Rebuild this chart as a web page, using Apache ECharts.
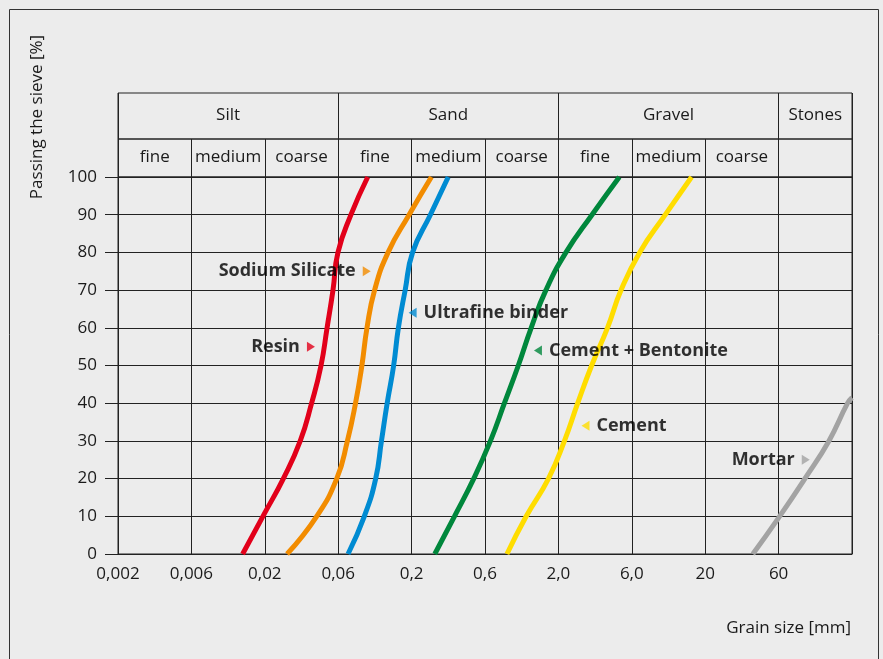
<!DOCTYPE html>
<html>
<head>
<meta charset="utf-8">
<title>Grain size distribution</title>
<script src="https://cdn.jsdelivr.net/npm/echarts@6/dist/echarts.min.js"></script>
<style>
  html, body { margin: 0; padding: 0; background: #ececec; }
  #chart { width: 883px; height: 659px; }
</style>
</head>
<body>
<div id="chart"></div>
<script>
// Sieve sizes [mm] marking the vertical grid lines (evenly spaced on the chart)
const tickSizes = [0.002, 0.006, 0.02, 0.06, 0.2, 0.6, 2, 6, 20, 60, 200];
const tickLabels = ['0,002', '0,006', '0,02', '0,06', '0,2', '0,6', '2,0', '6,0', '20', '60', ''];

// Soil fractions and their sub-classes
const fractionNames = ['Silt', 'Sand', 'Gravel', 'Stones'];
const fractionBounds = [[0.002, 0.06], [0.06, 2], [2, 60], [60, 200]];
const subclassNames = ['fine', 'medium', 'coarse', 'fine', 'medium', 'coarse', 'fine', 'medium', 'coarse'];

// Grading curves: grain size [mm] vs. passing [%]
const resinSize = [0.0139, 0.02, 0.0264, 0.034, 0.0403, 0.0464, 0.0508, 0.0555, 0.0598, 0.074, 0.0974];
const resinPass = [0, 10.9, 20, 30, 40, 50, 60, 70, 80, 90, 100];

const silicateSize = [0.0279, 0.0435, 0.0587, 0.0698, 0.0797, 0.0885, 0.0962, 0.109, 0.136, 0.192, 0.269];
const silicatePass = [0, 10, 20, 30, 40, 50, 60, 70, 80, 90, 100];

const ultrafineSize = [0.0705, 0.0921, 0.111, 0.122, 0.134, 0.149, 0.161, 0.18, 0.203, 0.265, 0.346];
const ultrafinePass = [0, 10, 20, 30, 40, 50, 60, 70, 80, 90, 100];

const bentoniteSize = [0.283, 0.38, 0.507, 0.656, 0.825, 1.036, 1.28, 1.63, 2.24, 3.31, 4.98];
const bentonitePass = [0, 10, 20, 30, 40, 50, 60, 70, 80, 90, 100];

const cementSize = [0.86, 1.18, 1.7, 2.19, 2.67, 3.29, 4.17, 5.11, 6.83, 10.4, 16.0];
const cementPass = [0, 10, 20, 30, 40, 50, 60, 70, 80, 90, 100];

// The mortar curve runs on past the largest sieve size
const mortarSize = [40.8, 61, 92.4, 137, 186, 200];
const mortarPass = [0, 10, 20, 30, 40, 41.5];

// Curve annotations: name, arrow anchor (size [mm], passing [%]), side of the text
const noteNames = ['Sodium Silicate', 'Resin', 'Ultrafine binder', 'Cement + Bentonite', 'Cement', 'Mortar'];
const noteSize = [0.0958, 0.0399, 0.203, 1.43, 3.0, 93.7];
const notePass = [75, 55, 64, 54, 34, 25];
const noteSide = ['left', 'left', 'right', 'right', 'right', 'left'];

const colors = {
  resin: '#e2001a',
  silicate: '#f28c00',
  ultrafine: '#008bd2',
  bentonite: '#00873c',
  cement: '#ffdd00',
  mortar: '#a3a3a3'
};
const noteColors = [colors.silicate, colors.resin, colors.ultrafine, colors.bentonite, colors.cement, colors.mortar];

const FONT = '"Open Sans", "Noto Sans", sans-serif';
const TEXT = '#1a1a1a';
const LINE = '#222';

// Position on the sieve axis: piecewise logarithmic between the marked sieve sizes
function sizeToAxis(d) {
  for (let k = 0; k < tickSizes.length - 1; k++) {
    if (d <= tickSizes[k + 1] || k === tickSizes.length - 2) {
      return k + Math.log(d / tickSizes[k]) / Math.log(tickSizes[k + 1] / tickSizes[k]);
    }
  }
  return 0;
}

function curve(sizes, pass) {
  return sizes.map((s, i) => [sizeToAxis(s), pass[i]]);
}

const lineDefs = [
  ['Resin', resinSize, resinPass, colors.resin],
  ['Sodium Silicate', silicateSize, silicatePass, colors.silicate],
  ['Ultrafine binder', ultrafineSize, ultrafinePass, colors.ultrafine],
  ['Cement + Bentonite', bentoniteSize, bentonitePass, colors.bentonite],
  ['Cement', cementSize, cementPass, colors.cement],
  ['Mortar', mortarSize, mortarPass, colors.mortar]
];

const subCenters = subclassNames.map((_, i) => [(sizeToAxis(tickSizes[i]) + sizeToAxis(tickSizes[i + 1])) / 2, 0.5]);
const fracCenters = fractionBounds.map(b => [(sizeToAxis(b[0]) + sizeToAxis(b[1])) / 2, 0.5]);

function headerText(names) {
  return function (params, api) {
    const p = api.coord([api.value(0), api.value(1)]);
    return {
      type: 'text',
      x: p[0],
      y: p[1] - 1,
      style: {
        text: names[params.dataIndex],
        fill: TEXT,
        fontSize: 17,
        fontFamily: FONT,
        align: 'center',
        verticalAlign: 'middle'
      }
    };
  };
}

const gridBase = { left: 118, width: 734, show: true, borderColor: LINE, borderWidth: 1, backgroundColor: 'transparent', containLabel: false, outerBoundsMode: 'none' };

function hiddenX(idx, interval) {
  return {
    type: 'value', gridIndex: idx, min: 0, max: 10, interval: interval,
    axisLine: { show: false }, axisTick: { show: false }, axisLabel: { show: false },
    splitLine: { show: true, lineStyle: { color: LINE, width: 1 } }
  };
}
function hiddenY(idx) {
  return {
    type: 'value', gridIndex: idx, min: 0, max: 1,
    axisLine: { show: false }, axisTick: { show: false }, axisLabel: { show: false },
    splitLine: { show: false }
  };
}

const series = lineDefs.map(d => ({
  name: d[0],
  type: 'line',
  xAxisIndex: 0,
  yAxisIndex: 0,
  data: curve(d[1], d[2]),
  smooth: 0.5,
  showSymbol: false,
  symbol: 'none',
  clip: true,
  lineStyle: { color: d[3], width: 5 },
  itemStyle: { color: d[3] },
  z: 3
}));

series.push({
  type: 'scatter',
  xAxisIndex: 0,
  yAxisIndex: 0,
  z: 5,
  data: noteNames.map((n, i) => ({
    value: [sizeToAxis(noteSize[i]), notePass[i]],
    symbol: 'triangle',
    symbolSize: [10, 8],
    symbolRotate: noteSide[i] === 'left' ? -90 : 90,
    itemStyle: { color: noteColors[i] },
    label: {
      show: true,
      formatter: n,
      position: noteSide[i],
      distance: 7,
      color: '#000',
      fontSize: 18,
      fontWeight: 'bold',
      fontFamily: FONT
    }
  })),
  silent: true
});

series.push({
  type: 'custom', xAxisIndex: 1, yAxisIndex: 1,
  data: subCenters, renderItem: headerText(subclassNames), silent: true
});
series.push({
  type: 'custom', xAxisIndex: 2, yAxisIndex: 2,
  data: fracCenters, renderItem: headerText(fractionNames), silent: true
});

const chart = echarts.init(document.getElementById('chart'), null, { renderer: 'canvas' });
chart.setOption({
  backgroundColor: '#ececec',
  animation: false,
  textStyle: { fontFamily: FONT },
  grid: [
    Object.assign({}, gridBase, { top: 177, height: 377 }),
    Object.assign({}, gridBase, { top: 139, height: 38 }),
    Object.assign({}, gridBase, { top: 93, height: 46 })
  ],
  xAxis: [
    {
      type: 'value', gridIndex: 0, min: 0, max: 10, interval: 1,
      axisLine: { show: true, lineStyle: { color: LINE, width: 1 } },
      axisTick: { show: false },
      axisLabel: {
        show: true, margin: 12, color: TEXT, fontSize: 17, fontFamily: FONT,
        showMinLabel: true, showMaxLabel: true,
        formatter: v => tickLabels[Math.round(v)] || ''
      },
      splitLine: { show: true, lineStyle: { color: LINE, width: 1 } }
    },
    hiddenX(1, 1),
    hiddenX(2, 3)
  ],
  yAxis: [
    {
      type: 'value', gridIndex: 0, min: 0, max: 100, interval: 10,
      axisLine: { show: true, lineStyle: { color: LINE, width: 1 } },
      axisTick: { show: true, length: 13, inside: false, lineStyle: { color: LINE, width: 1 } },
      axisLabel: { show: true, margin: 21, color: TEXT, fontSize: 17, fontFamily: FONT },
      splitLine: { show: true, lineStyle: { color: LINE, width: 1 } }
    },
    hiddenY(1),
    hiddenY(2)
  ],
  graphic: [
    {
      type: 'rect', silent: true, z: -1,
      shape: { x: 9.5, y: 9.5, width: 869, height: 700 },
      style: { fill: 'none', stroke: '#333', lineWidth: 1 }
    },
    {
      type: 'text', x: 37, y: 117, rotation: Math.PI / 2, silent: true,
      style: { text: 'Passing the sieve [%]', fill: TEXT, fontSize: 17, fontFamily: FONT, align: 'center', verticalAlign: 'middle' }
    },
    {
      type: 'text', x: 851, y: 628, silent: true,
      style: { text: 'Grain size [mm]', fill: TEXT, fontSize: 17, fontFamily: FONT, align: 'right', verticalAlign: 'middle' }
    }
  ],
  series: series
});
</script>
</body>
</html>
